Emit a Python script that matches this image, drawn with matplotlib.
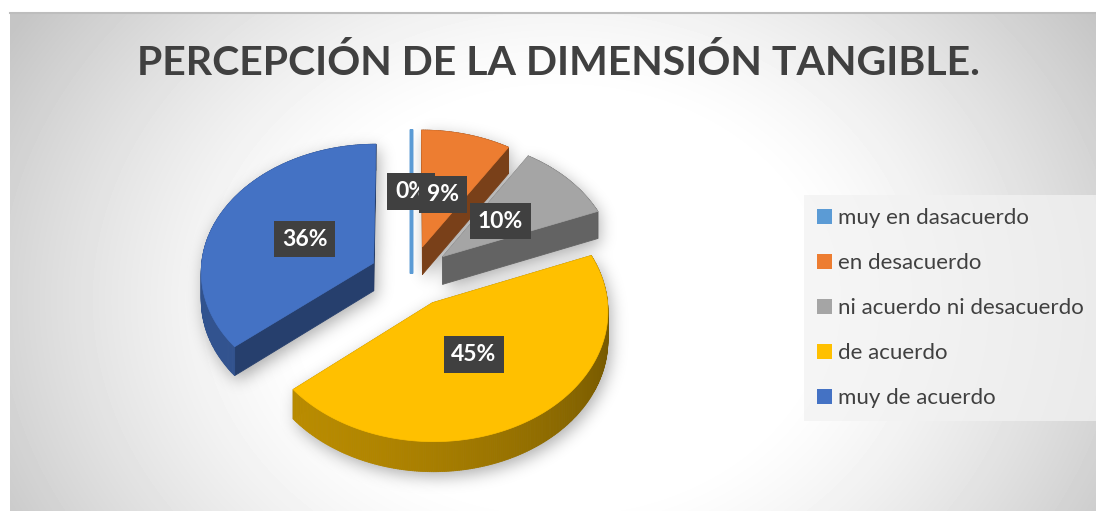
import numpy as np
import matplotlib.pyplot as plt
from matplotlib.patches import Polygon, Patch
from matplotlib.collections import PolyCollection
from matplotlib.path import Path
import matplotlib.colors as mcolors

# data
categories = ["muy en dasacuerdo", "en desacuerdo", "ni acuerdo ni desacuerdo",
              "de acuerdo", "muy de acuerdo"]
percent = [0, 9, 10, 45, 36]
colors = ["#5B9BD5", "#ED7D31", "#A5A5A5", "#FFC000", "#4472C4"]
title = "PERCEPCIÓN DE LA DIMENSIÓN TANGIBLE."

W, H = 1096, 511
cx, cy = 411, 276      # pie centre (pixels)
R = 173                # radius in x
k = 0.74               # vertical squash of the tilted pie
depth = 28             # thickness of the pie
explode = 0.24
persp = 0.06

plt.rcParams['font.family'] = ['Lato', 'DejaVu Sans']


def project(u, v, z=0.0):
    f = 1.0 - persp * v / R
    return cx + u * f, cy - v * k * f + z * f


def slice_geom(a1, a2):
    mid = np.radians((a1 + a2) / 2)
    su, sv = explode * R * np.cos(mid), explode * R * np.sin(mid)
    n = max(2, int(abs(a1 - a2) * 1.5) + 2)
    t = np.radians(np.linspace(a1, a2, n))
    u = np.concatenate([[su], su + R * np.cos(t)])
    v = np.concatenate([[sv], sv + R * np.sin(t)])
    return u, v, t, mid


def shade(color, normal):
    f = 0.58 + 0.15 * np.cos(normal - np.radians(210))
    r, g, b = mcolors.to_rgb(color)
    return (r * f, g * f, b * f)


fig = plt.figure(figsize=(W / 100, H / 100), dpi=100)
ax = fig.add_axes([0, 0, 1, 1])

# background radial gradient
xx, yy = np.meshgrid(np.arange(10, W) + 0.5, np.arange(13, H) + 0.5)
d = np.sqrt(((xx - 560) / 560) ** 2 + ((yy - 300) / 450) ** 2)
tt = np.clip((d - 0.45) / 0.7, 0, 1) ** 1.3
bg = 1 - 0.23 * tt
ax.imshow(bg, cmap='gray', vmin=0, vmax=1, extent=(10, W, H, 13),
          aspect='auto', zorder=0, interpolation='bilinear')
ax.plot([10, W], [13.5, 13.5], color='#bdbdbd', lw=1.5, zorder=1)

# slice angles, clockwise from 12 o'clock
total = float(sum(percent))
starts, ends = [], []
a = 90.0
for p in percent:
    starts.append(a)
    a -= 360.0 * p / total
    ends.append(a)

geoms = [slice_geom(s, e) for s, e in zip(starts, ends)]

# soft shadow under the pie
gx, gy = np.meshgrid(np.arange(W) + 0.5, np.arange(H) + 0.5)
pts = np.column_stack([gx.ravel(), gy.ravel()])
mask = np.zeros(W * H)
for (u, v, t, mid), p in zip(geoms, percent):
    if p == 0:
        continue
    for z in np.linspace(0, depth, 8):
        X, Y = project(u, v, z)
        path = Path(np.column_stack([X + 3, Y + 5]))
        mask = np.maximum(mask, path.contains_points(pts))
mask = mask.reshape(H, W)
sig = 8
kx = np.arange(-3 * sig, 3 * sig + 1)
kern = np.exp(-kx ** 2 / (2 * sig ** 2))
kern /= kern.sum()
blur = np.apply_along_axis(lambda r: np.convolve(r, kern, mode='same'), 1, mask)
blur = np.apply_along_axis(lambda c: np.convolve(c, kern, mode='same'), 0, blur)
shadow = np.zeros((H, W, 4))
shadow[..., 3] = blur * 0.32
ax.imshow(shadow, extent=(0, W, H, 0), aspect='auto', zorder=2)

# slices, back to front
order = sorted(range(len(percent)), key=lambda i: -np.sin(geoms[i][3]))
zo = 3
for i in order:
    u, v, t, mid = geoms[i]
    col = colors[i]
    Xt, Yt = project(u, v, 0)
    Xb, Yb = project(u, v, depth)
    if percent[i] == 0:
        ax.add_patch(Polygon([(Xt[0], Yt[0]), (Xt[1], Yt[1]), (Xb[1], Yb[1]), (Xb[0], Yb[0])],
                             closed=True, fc=col, ec=col, lw=2.5, zorder=zo))
        zo += 1
        continue
    quads, qcols, qdepth = [], [], []
    n = len(u)
    for a_ in range(n):
        b_ = (a_ + 1) % n
        if a_ == 0:
            normal = np.radians(starts[i]) + np.pi / 2
        elif b_ == 0:
            normal = np.radians(ends[i]) - np.pi / 2
        else:
            normal = (t[a_ - 1] + t[b_ - 1]) / 2
        quads.append([(Xt[a_], Yt[a_]), (Xt[b_], Yt[b_]), (Xb[b_], Yb[b_]), (Xb[a_], Yb[a_])])
        qcols.append(shade(col, normal))
        qdepth.append(-(v[a_] + v[b_]) / 2)
    idx = np.argsort(qdepth)
    quads = [quads[j] for j in idx]
    qcols = [qcols[j] for j in idx]
    ax.add_collection(PolyCollection(quads, facecolors=qcols, edgecolors=qcols,
                                     linewidths=0.6, zorder=zo))
    ax.add_patch(Polygon(np.column_stack([Xt, Yt]), closed=True, fc=col, ec=col,
                         lw=0.5, zorder=zo + 1))
    zo += 2

# data labels
for i in range(len(percent)):
    u, v, t, mid = geoms[i]
    lu = u[0] + 0.45 * R * np.cos(mid)
    lv = v[0] + 0.45 * R * np.sin(mid)
    lx, ly = project(lu, lv, 0)
    ax.text(lx, ly, "%d%%" % round(percent[i]), ha='center', va='center',
            color='white', fontsize=16.5, fontweight='bold', zorder=30,
            bbox=dict(boxstyle='square,pad=0.34', fc='#404040', ec='none'))

# title
ax.text(558, 63, title, ha='center', va='center', fontsize=29.5,
        fontweight='bold', color='#404040', zorder=30)

# legend
handles = [Patch(facecolor=c, edgecolor='none') for c in colors]
leg = ax.legend(handles, categories, loc='upper left',
                bbox_to_anchor=(804 / W, 1 - 195 / H), frameon=True,
                fontsize=16, handlelength=0.65, handleheight=0.65,
                handletextpad=0.3, labelspacing=1.12, borderpad=0.6,
                borderaxespad=0, fancybox=False)
leg.get_frame().set_facecolor('#f2f2f2')
leg.get_frame().set_alpha(0.75)
leg.get_frame().set_edgecolor('none')
for txt in leg.get_texts():
    txt.set_color('#404040')
leg.set_zorder(30)

ax.set_xlim(0, W)
ax.set_ylim(H, 0)
ax.axis('off')
fig.savefig('out.png', dpi=100, facecolor='white')
